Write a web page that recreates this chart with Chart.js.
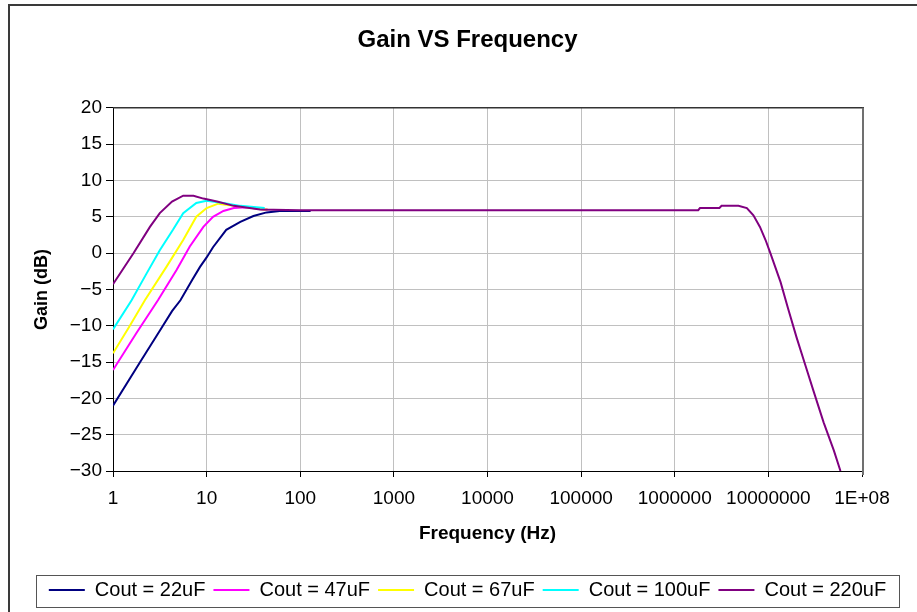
<!DOCTYPE html>
<html>
<head>
<meta charset="utf-8">
<script src="https://cdn.jsdelivr.net/npm/chart.js@4.4.0/dist/chart.umd.min.js"></script>
<style>
  html, body { margin: 0; padding: 0; background: #fff; }
  #wrap { width: 917px; height: 612px; }
</style>
</head>
<body>
<div id="wrap"><canvas id="gainChart" width="917" height="612"></canvas></div>
<script>
// valori (frecventa in Hz, castig in dB)
const seriesLabels = ['Cout = 22uF', 'Cout = 47uF', 'Cout = 67uF', 'Cout = 100uF', 'Cout = 220uF'];
const seriesColors = ['#000080', '#ff00ff', '#ffff00', '#00ffff', '#800080'];

const freq22 = [1, 1.95, 3.16, 4.27, 5.25, 7.08, 8.5, 10, 11.7, 16.2, 22.9, 31.6, 43.7, 60.3, 129];
const gain22 = [-21.0, -15.0, -10.7, -8.0, -6.5, -3.6, -1.9, -0.6, 0.8, 3.2, 4.3, 5.1, 5.6, 5.8, 5.8];

const freq47 = [1, 1.78, 3.02, 4.79, 6.61, 9.23, 11.7, 15.1, 19.5, 26.9, 40.7, 44.7];
const gain47 = [-16.1, -11.0, -6.5, -2.3, 0.9, 3.6, 5.0, 5.8, 6.2, 6.3, 6.0, 6.0];

const freq67 = [1, 1.48, 2.19, 3.72, 5.62, 7.76, 10, 13.3, 17.8, 26.9, 40.7, 44.7];
const gain67 = [-13.8, -10.2, -6.5, -1.9, 1.8, 5.0, 6.2, 6.8, 6.6, 6.3, 6.0, 6.0];

const freq100 = [1, 1.58, 2.24, 3.16, 4.37, 5.62, 7.76, 10, 15.1, 22.9, 41.7];
const gain100 = [-10.5, -6.5, -3.0, 0.4, 3.2, 5.5, 6.9, 7.2, 6.9, 6.5, 6.2];

const freq220 = [1, 1.66, 2.48, 3.16, 4.27, 5.62, 7.24, 9.23, 12.9, 19.5, 37.2,
  100, 1000, 10000, 100000, 1000000, 1780000, 1860000, 3000000, 3160000,
  4790000, 5890000, 6920000, 8130000, 9330000, 10500000, 13500000, 16200000,
  20000000, 24500000, 30200000, 38900000, 50100000, 58900000];
const gain220 = [-4.3, 0, 3.6, 5.5, 7.1, 7.9, 7.9, 7.5, 7.1, 6.5, 6.0,
  5.9, 5.9, 5.9, 5.9, 5.9, 5.9, 6.2, 6.2, 6.5,
  6.5, 6.2, 5.2, 3.6, 1.8, 0, -4.0, -7.6,
  -11.6, -15.2, -18.9, -23.3, -27.2, -30.0];

const xTicks = [1, 10, 100, 1000, 10000, 100000, 1000000, 10000000, 100000000];
const yMin = -30, yMax = 20, yStep = 5;

const allFreq = [freq22, freq47, freq67, freq100, freq220];
const allGain = [gain22, gain47, gain67, gain100, gain220];
const drawOrder = [4, 3, 2, 1, 0];

const FONT = '"Liberation Sans", Arial, Helvetica, sans-serif';

const datasets = seriesLabels.map((label, i) => ({
  label: label,
  data: allFreq[i].map((f, j) => ({ x: f, y: allGain[i][j] })),
  borderColor: seriesColors[i],
  backgroundColor: seriesColors[i],
  borderWidth: 2,
  pointRadius: 0,
  tension: 0,
  fill: false,
  order: drawOrder[i]
}));

// fundal, chenarul graficului, marginea zonei de plotare, cadrul legendei
const frame = {
  id: 'frame',
  beforeDraw(chart) {
    const c = chart.ctx;
    c.save();
    c.fillStyle = '#fff';
    c.fillRect(0, 0, chart.width, chart.height);
    c.strokeStyle = '#3a3a3a';
    c.lineWidth = 2;
    c.strokeRect(9, 5, chart.width + 10, chart.height + 10);
    c.restore();
  },
  beforeDatasetsDraw(chart) {
    const a = chart.chartArea;
    const c = chart.ctx;
    c.save();
    c.strokeStyle = '#333';
    c.lineWidth = 1.5;
    c.beginPath();
    c.moveTo(a.left, a.top);
    c.lineTo(a.right + 2, a.top);
    c.stroke();
    c.strokeStyle = '#707070';
    c.lineWidth = 2;
    c.beginPath();
    c.moveTo(a.right + 1, a.top);
    c.lineTo(a.right + 1, a.bottom + 4);
    c.stroke();
    c.restore();
  },
  afterDraw(chart) {
    const lg = chart.legend;
    if (!lg || !lg.legendHitBoxes.length) return;
    const c = chart.ctx;
    c.save();
    c.strokeStyle = '#555';
    c.lineWidth = 1;
    c.strokeRect(lg.left + 6 + 0.5, lg.top + 3 + 0.5, lg.right - lg.left - 12, lg.bottom - lg.top - 6);
    c.restore();
  }
};

new Chart(document.getElementById('gainChart').getContext('2d'), {
  type: 'line',
  data: { datasets: datasets },
  options: {
    responsive: false,
    animation: false,
    layout: { padding: { left: 30, right: 12, top: 0, bottom: 2 } },
    plugins: {
      title: {
        display: true,
        text: 'Gain VS Frequency',
        color: '#000',
        font: { family: FONT, size: 24, weight: 'bold', lineHeight: 1.2 },
        padding: { top: 26, bottom: 53 }
      },
      legend: {
        position: 'bottom',
        labels: {
          color: '#000',
          font: { family: FONT, size: 20 },
          usePointStyle: true,
          pointStyle: 'line',
          pointStyleWidth: 36,
          padding: 8,
          sort: (a, b) => a.datasetIndex - b.datasetIndex
        }
      },
      tooltip: { enabled: false }
    },
    scales: {
      x: {
        type: 'logarithmic',
        position: 'bottom',
        min: xTicks[0],
        max: xTicks[xTicks.length - 1],
        afterBuildTicks: (s) => { s.ticks = xTicks.map(v => ({ value: v })); },
        afterFit: (s) => { s.height = 101; },
        ticks: {
          color: '#000',
          font: { family: FONT, size: 19 },
          padding: 10,
          autoSkip: false,
          maxRotation: 0,
          callback: (v) => (v >= 100000000 ? '1E+08' : String(v))
        },
        grid: { color: '#c0c0c0', lineWidth: 1, tickColor: '#000', tickLength: 6 },
        border: { color: '#000', width: 1 },
        title: {
          display: true,
          text: 'Frequency (Hz)',
          color: '#000',
          font: { family: FONT, size: 19, weight: 'bold', lineHeight: 1.2 },
          padding: { top: 0, bottom: 26.6 }
        }
      },
      y: {
        type: 'linear',
        position: 'left',
        min: yMin,
        max: yMax,
        afterFit: (s) => { s.width = 83; },
        ticks: {
          stepSize: yStep,
          color: '#000',
          font: { family: FONT, size: 19 },
          padding: 4,
          callback: (v) => (v < 0 ? '\u2212' + Math.abs(v) : String(v))
        },
        grid: { color: '#c0c0c0', lineWidth: 1, tickColor: '#000', tickLength: 7 },
        border: { color: '#000', width: 1 },
        title: {
          display: true,
          text: 'Gain (dB)',
          color: '#000',
          font: { family: FONT, size: 18, weight: 'bold', lineHeight: 1.2 },
          padding: { top: 1, bottom: 0 }
        }
      },
      y2: {
        type: 'linear',
        position: 'right',
        display: true,
        afterFit: (s) => { s.width = 43; },
        ticks: { display: false },
        grid: { display: false, drawTicks: false },
        border: { display: false }
      }
    }
  },
  plugins: [frame]
});
</script>
</body>
</html>
